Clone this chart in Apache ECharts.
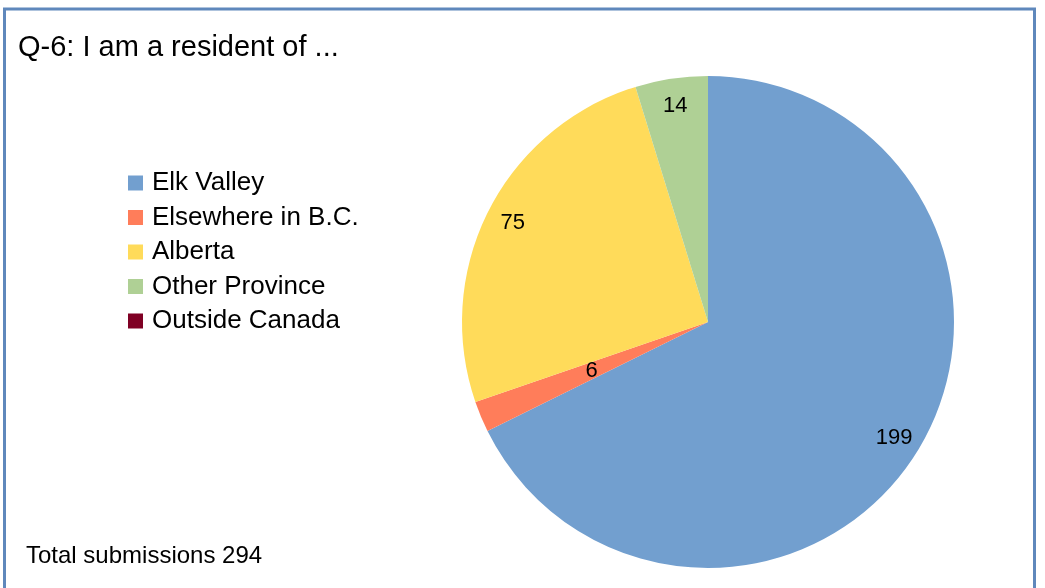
<!DOCTYPE html>
<html>
<head>
<meta charset="utf-8">
<script src="https://cdn.jsdelivr.net/npm/echarts@6/dist/echarts.min.js"></script>
<style>
html,body{margin:0;padding:0;background:#fff;}
#chart{width:1045px;height:588px;}
</style>
</head>
<body>
<div id="chart"></div>
<script>
const categories = ['Elk Valley', 'Elsewhere in B.C.', 'Alberta', 'Other Province', 'Outside Canada'];
const values = [199, 6, 75, 14, 0];
const colors = ['#729fcf', '#ff7d5a', '#ffdb5a', '#afd095', '#7f0024'];
const titleText = 'Q-6: I am a resident of ...';
const totalText = 'Total submissions ' + values.reduce((a, b) => a + b, 0);
// labels drawn near the rim (outer ring) vs at half radius
const outerLabel = [true, false, true, true, false];

const FONT = '"Liberation Sans", Arial, sans-serif';
const chart = echarts.init(document.getElementById('chart'));

const mainData = categories.map((n, i) => ({
  name: n, value: values[i], itemStyle: { color: colors[i] },
  label: { show: !outerLabel[i] && values[i] > 0 }
}));
const ringData = categories.map((n, i) => ({
  name: n, value: values[i], itemStyle: { color: 'rgba(0,0,0,0)' },
  label: { show: outerLabel[i] && values[i] > 0 }
}));

chart.setOption({
  animation: false,
  title: {
    text: titleText, left: 18, top: 33, padding: 0,
    textStyle: { fontFamily: FONT, fontSize: 29, fontWeight: 'normal', color: '#000' }
  },
  legend: {
    orient: 'vertical', left: 128, top: 170, padding: 0,
    data: categories, selectedMode: false,
    icon: 'rect', itemWidth: 15, itemHeight: 15, itemGap: 8.5,
    textStyle: { fontFamily: FONT, fontSize: 26, color: '#000', padding: [0, 0, 0, 4] }
  },
  graphic: [
    { type: 'rect', shape: { x: 4.5, y: 9, width: 1030, height: 620 },
      style: { fill: 'none', stroke: '#5f88bc', lineWidth: 3 }, silent: true },
    { type: 'text', left: 26, top: 544,
      style: { text: totalText, font: '24px "Liberation Sans", Arial, sans-serif', fill: '#000' } }
  ],
  series: [
    {
      type: 'pie', center: [708, 322], radius: [0, 246], startAngle: 90, clockwise: true,
      silent: true, data: mainData,
      label: { position: 'inside', formatter: '{c}', fontFamily: FONT, fontSize: 22, color: '#000' },
      labelLine: { show: false }
    },
    {
      type: 'pie', center: [708, 322], radius: [186, 246], startAngle: 90, clockwise: true,
      silent: true, legendHoverLink: false, data: ringData,
      label: { position: 'inside', formatter: '{c}', fontFamily: FONT, fontSize: 22, color: '#000' },
      labelLine: { show: false }
    }
  ]
});
</script>
</body>
</html>
